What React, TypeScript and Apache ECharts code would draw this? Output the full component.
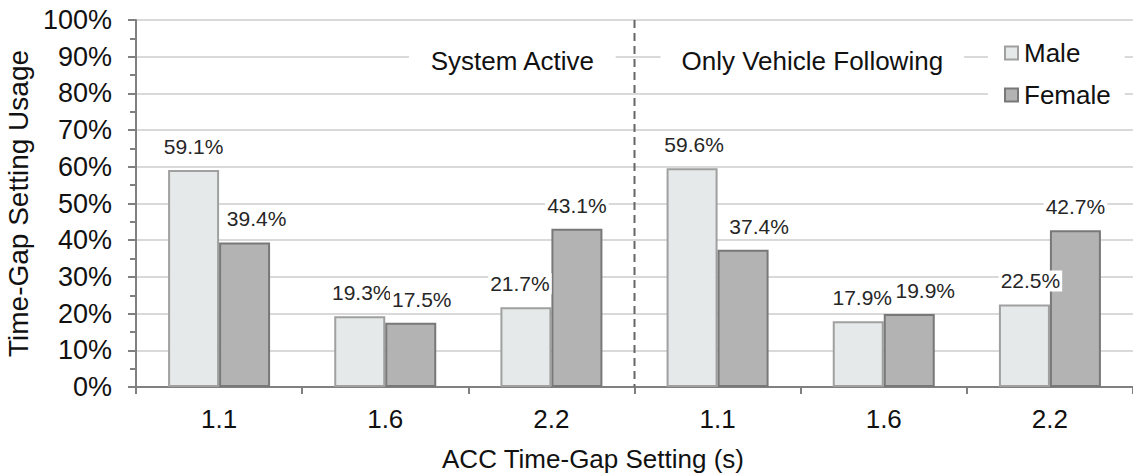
import React, { useEffect, useRef } from "react";
import * as echarts from "echarts";

const gapSettings = ["1.1", "1.6", "2.2"];
const conditions = ["System Active", "Only Vehicle Following"];
const categories = [...gapSettings, ...gapSettings];
const maleValues = [59.1, 19.3, 21.7, 59.6, 17.9, 22.5];
const femaleValues = [39.4, 17.5, 43.1, 37.4, 19.9, 42.7];
const yTicks = [0, 10, 20, 30, 40, 50, 60, 70, 80, 90, 100];
const seriesNames = ["Male", "Female"];
const yAxisTitle = "Time-Gap Setting Usage";
const xAxisTitle = "ACC Time-Gap Setting (s)";

const FONT = "Liberation Sans, Arial, sans-serif";

export default function App() {
  const ref = useRef<HTMLDivElement>(null);
  useEffect(() => {
    if (!ref.current) return;
    const chart = echarts.init(ref.current, undefined, { renderer: "svg" });
    const labelCfg = {
      show: true,
      position: "top",
      distance: 13,
      formatter: (p: any) => p.value.toFixed(1) + "%",
      fontFamily: FONT,
      fontSize: 21,
      color: "#262626",
      backgroundColor: "#fff",
      padding: [0, 2, 0, 2],
    };
    // Excel nudged some labels sideways to avoid collisions
    const maleShift = [0, 2, -6, 2, 4, 6];
    const femaleShift = [12, 11, 0, 16, 16, 0];
    chart.setOption({
      animation: false,
      backgroundColor: "#fff",
      textStyle: { fontFamily: FONT },
      grid: {
        left: 136,
        right: 0,
        top: 20,
        bottom: 87,
        containLabel: false,
        outerBoundsMode: "none",
      },
      legend: {
        orient: "vertical",
        left: 988,
        top: 36,
        z: 20,
        data: seriesNames,
        icon: "rect",
        itemWidth: 13,
        itemHeight: 13,
        itemGap: 16,
        padding: [4, 14, 4, 16],
        backgroundColor: "#fff",
        itemStyle: { borderWidth: 2 },
        textStyle: { fontFamily: FONT, fontSize: 26, color: "#111", padding: [0, 0, 0, 1] },
      },
      xAxis: {
        type: "category",
        data: categories,
        axisLine: { show: true, lineStyle: { color: "#808080", width: 2 } },
        axisTick: { show: true, length: 7, alignWithLabel: false, lineStyle: { color: "#808080", width: 2 } },
        axisLabel: { fontFamily: FONT, fontSize: 26, color: "#111", margin: 19, interval: 0 },
        splitLine: { show: false },
      },
      yAxis: {
        type: "value",
        min: yTicks[0],
        max: yTicks[yTicks.length - 1],
        interval: 10,
        name: yAxisTitle,
        nameLocation: "middle",
        nameGap: 94,
        nameTextStyle: { fontFamily: FONT, fontSize: 28, color: "#111" },
        axisLine: { show: true, lineStyle: { color: "#808080", width: 2 } },
        axisTick: { show: true, length: 8, lineStyle: { color: "#808080", width: 2 } },
        minorTick: { show: true, splitNumber: 2, length: 6, lineStyle: { color: "#808080", width: 2 } },
        axisLabel: {
          fontFamily: FONT,
          fontSize: 27,
          color: "#111",
          margin: 24,
          formatter: (v: number) => v + "%",
        },
        splitLine: { show: true, lineStyle: { color: "#d9d9d9", width: 2 } },
      },
      series: [
        {
          name: seriesNames[0],
          type: "bar",
          data: maleValues.map((v, i) => ({ value: v, label: { offset: [maleShift[i], 0] } })),
          barWidth: 51,
          barGap: "0%",
          itemStyle: { color: "#e6e9e9", borderColor: "#a0a0a0", borderWidth: 2 },
          label: labelCfg,
        },
        {
          name: seriesNames[1],
          type: "bar",
          data: femaleValues.map((v, i) => ({ value: v, label: { offset: [femaleShift[i], 0] } })),
          barWidth: 51,
          barGap: "0%",
          itemStyle: { color: "#b3b3b3", borderColor: "#787878", borderWidth: 2 },
          label: labelCfg,
        },
      ],
    });

    const x1 = chart.convertToPixel({ xAxisIndex: 0 }, 1) as number;
    const x2 = chart.convertToPixel({ xAxisIndex: 0 }, 2) as number;
    const x3 = chart.convertToPixel({ xAxisIndex: 0 }, 3) as number;
    const x4 = chart.convertToPixel({ xAxisIndex: 0 }, 4) as number;
    const catW = x3 - x2;
    const xDiv = (x2 + x3) / 2;
    const yTop = chart.convertToPixel({ yAxisIndex: 0 }, 100) as number;
    const yBot = chart.convertToPixel({ yAxisIndex: 0 }, 0) as number;
    const y90 = chart.convertToPixel({ yAxisIndex: 0 }, 90) as number;
    const leftCenter = x1 + catW * 0.765;
    const rightCenter = x4 - catW * 0.43;

    chart.setOption({
      graphic: [
        {
          type: "line",
          shape: { x1: xDiv, y1: yTop, x2: xDiv, y2: yBot },
          style: { stroke: "#666", lineWidth: 2, lineDash: [8, 5] },
          z: 10,
        },
        {
          type: "text",
          x: leftCenter,
          y: y90 + 4,
          style: {
            text: conditions[0],
            font: `26px ${FONT}`,
            fill: "#111",
            align: "center",
            verticalAlign: "middle",
            backgroundColor: "#fff",
            padding: [2, 21, 2, 21],
          },
          z: 10,
        },
        {
          type: "text",
          x: rightCenter,
          y: y90 + 4,
          style: {
            text: conditions[1],
            font: `26px ${FONT}`,
            fill: "#111",
            align: "center",
            verticalAlign: "middle",
            backgroundColor: "#fff",
            padding: [2, 21, 2, 21],
          },
          z: 10,
        },
        {
          type: "text",
          x: 593,
          y: 459,
          style: {
            text: xAxisTitle,
            font: `26px ${FONT}`,
            fill: "#111",
            align: "center",
            verticalAlign: "middle",
          },
        },
      ],
    });
    return () => chart.dispose();
  }, []);
  return (
    <div
      ref={ref}
      style={{ position: "fixed", left: 0, top: 0, width: 1133, height: 474 }}
    />
  );
}
